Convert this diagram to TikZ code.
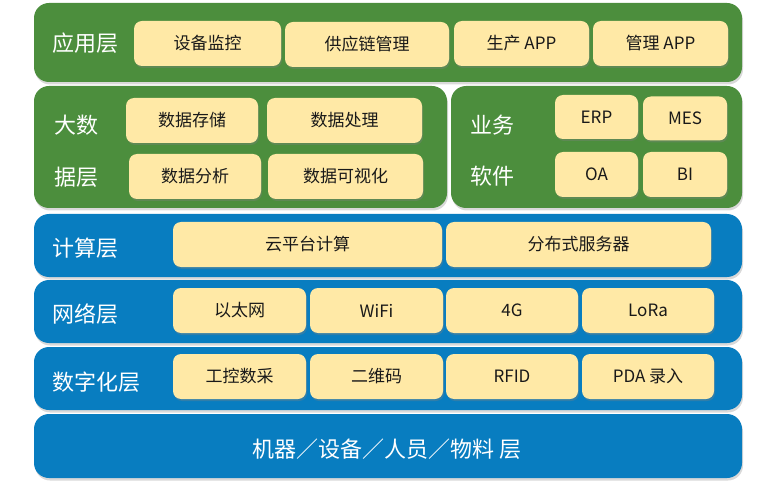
\documentclass[tikz,border=0pt]{standalone}
\usepackage{fontspec}
\setmainfont{Noto Sans CJK SC}
\usetikzlibrary{shadows,positioning}
\definecolor{lg}{RGB}{76,142,61}
\definecolor{lb}{RGB}{8,125,192}
\definecolor{ly}{RGB}{255,233,166}
\tikzset{
    layer/.style =  {rectangle,
                    rounded corners=15pt,
                    draw=none,
                    inner sep=0pt,
                    drop shadow={shadow xshift=1pt,shadow yshift=-2.5pt,opacity=0.3}},
    green/.style =  {layer,
                    fill=lg},
    blue/.style =   {layer,
                    fill=lb},
    item/.style =   {rectangle,
                    rounded corners=8pt,
                    fill=ly,
                    draw=none,
                    text=black!90,
                    font=\fontsize{17}{19}\selectfont,
                    inner sep=0pt,
                    minimum height=45pt,
                    drop shadow={shadow xshift=1pt,shadow yshift=-2pt,opacity=0.35}},
    tag/.style =    {text=white,
                    anchor=west,
                    inner sep=0pt,
                    font=\fontsize{22}{24}\selectfont},
    x=1pt,
    y=-1pt}

\begin{document}
\begin{tikzpicture}
        \useasboundingbox (0,0) rectangle (770,486);
        % layers
        \node[green, minimum width=708pt, minimum height=79pt]  (app)  at (388,42.5)  {};
        \node[green, minimum width=413pt, minimum height=122pt] (data) at (240.5,147) {};
        \node[green, minimum width=291pt, minimum height=122pt] (biz)  at (596.5,147) {};
        \node[blue,  minimum width=708pt, minimum height=63pt]  (comp) at (388,245.5) {};
        \node[blue,  minimum width=708pt, minimum height=63pt]  (net)  at (388,311.5) {};
        \node[blue,  minimum width=708pt, minimum height=63pt]  (dig)  at (388,378.5) {};
        \node[blue,  minimum width=708pt, minimum height=64pt]  (base) at (388,446)   {};
        % layer names
        \node[tag] (appname)  at (52,43.5)  {应用层};
        \node[tag] (dataname) at (54,125)   {大数};
        \node[tag] (dataname2) at (54,177)  {据层};
        \node[tag] (bizname)  at (470,125)  {业务};
        \node[tag] (bizname2) at (470,176)  {软件};
        \node[tag] (compname) at (52,248)   {计算层};
        \node[tag] (netname)  at (52,314)   {网络层};
        \node[tag] (digname)  at (52,382)   {数字化层};
        \node[text=white, font=\fontsize{22}{24}\selectfont] (basename) at (387,449) {机器／设备／人员／物料\ 层};
        % application
        \node[item, minimum width=147pt] (monitor) at (207.5,43.5) {设备监控};
        \node[item, minimum width=164pt] (supply)  at (367,44.5)   {供应链管理};
        \node[item, minimum width=135pt] (prodapp) at (521.5,43.5) {生产 APP};
        \node[item, minimum width=135pt] (mgmtapp) at (660.5,43.5) {管理 APP};
        % big data
        \node[item, minimum width=132pt] (store)   at (192,120.5)   {数据存储};
        \node[item, minimum width=155pt] (proc)    at (344.5,120.5) {数据处理};
        \node[item, minimum width=132pt] (anal)    at (195,176.5)   {数据分析};
        \node[item, minimum width=155pt] (vis)     at (345.5,176.5) {数据可视化};
        % business software
        \node[item, minimum width=83pt, minimum height=44pt] (erp) at (596.5,117) {ERP};
        \node[item, minimum width=84pt, minimum height=44pt] (mes) at (685,118.5) {MES};
        \node[item, minimum width=83pt]  (oa)  at (596.5,174.5) {OA};
        \node[item, minimum width=84pt]  (bi)  at (685,174.5)   {BI};
        % computing
        \node[item, minimum width=269pt] (cloud)  at (307.5,244.5) {云平台计算};
        \node[item, minimum width=265pt] (server) at (578.5,244.5) {分布式服务器};
        % network
        \node[item, minimum width=133pt] (eth)  at (239.5,310.5) {以太网};
        \node[item, minimum width=133pt] (wifi) at (376.5,310.5) {WiFi};
        \node[item, minimum width=132pt] (fourg) at (512,310.5)  {4G};
        \node[item, minimum width=132pt] (lora) at (648,310.5)   {LoRa};
        % digitization
        \node[item, minimum width=133pt] (plc)  at (239.5,376.5) {工控数采};
        \node[item, minimum width=133pt] (qr)   at (376.5,376.5) {二维码};
        \node[item, minimum width=132pt] (rfid) at (512,376.5)   {RFID};
        \node[item, minimum width=132pt] (pda)  at (648,376.5)   {PDA 录入};
\end{tikzpicture}
\end{document}
